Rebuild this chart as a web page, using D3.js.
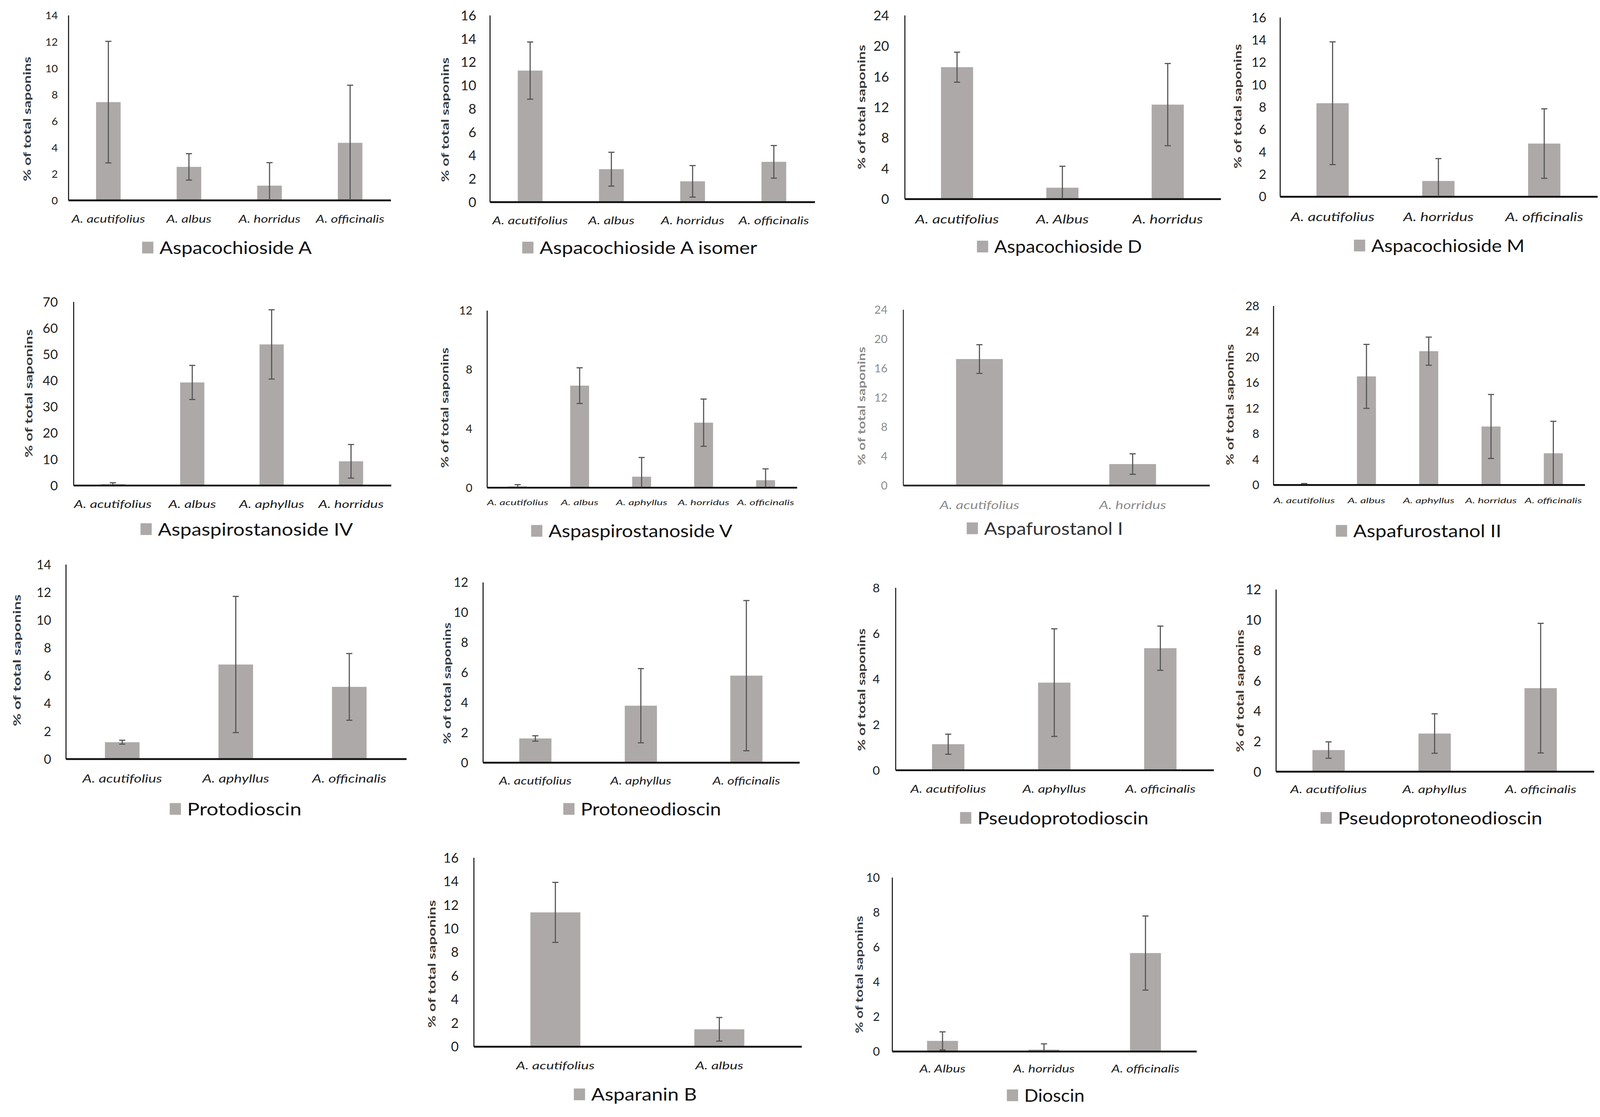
<!DOCTYPE html>
<html><head><meta charset="utf-8">
<script src="https://cdn.jsdelivr.net/npm/d3@7"></script>
<style>html,body{margin:0;padding:0;background:#fff;} svg{display:block;}</style>
</head><body>
<svg id="chart"></svg>
<script>
// ---------------- DATA ----------------
const compounds = ["Aspacochioside A","Aspacochioside A isomer","Aspacochioside D","Aspacochioside M",
  "Aspaspirostanoside IV","Aspaspirostanoside V","Aspafurostanol I","Aspafurostanol II",
  "Protodioscin","Protoneodioscin","Pseudoprotodioscin","Pseudoprotoneodioscin",
  "Asparanin B","Dioscin"];
const species = [
  ["A. acutifolius","A. albus","A. horridus","A. officinalis"],
  ["A. acutifolius","A. albus","A. horridus","A. officinalis"],
  ["A. acutifolius","A. Albus","A. horridus"],
  ["A. acutifolius","A. horridus","A. officinalis"],
  ["A. acutifolius","A. albus","A. aphyllus","A. horridus"],
  ["A. acutifolius","A. albus","A. aphyllus","A. horridus","A. officinalis"],
  ["A. acutifolius","A. horridus"],
  ["A. acutifolius","A. albus","A. aphyllus","A. horridus","A. officinalis"],
  ["A. acutifolius","A. aphyllus","A. officinalis"],
  ["A. acutifolius","A. aphyllus","A. officinalis"],
  ["A. acutifolius","A. aphyllus","A. officinalis"],
  ["A. acutifolius","A. aphyllus","A. officinalis"],
  ["A. acutifolius","A. albus"],
  ["A. Albus","A. horridus","A. officinalis"]
];
const means = [
  [7.4, 2.5, 1.08, 4.32],
  [11.23, 2.78, 1.74, 3.41],
  [17.17, 1.42, 12.28],
  [8.3, 1.36, 4.7],
  [0.35, 39.1, 53.6, 9.04],
  [0.05, 6.88, 0.71, 4.37, 0.47],
  [17.2, 2.86],
  [0.05, 16.9, 20.84, 9.07, 4.88],
  [1.18, 6.77, 5.16],
  [1.58, 3.76, 5.76],
  [1.12, 3.82, 5.33],
  [1.39, 2.48, 5.47],
  [11.33, 1.43],
  [0.58, 0.08, 5.63]
];
const errors = [
  [4.6, 1.0, 1.74, 4.36],
  [2.45, 1.45, 1.35, 1.4],
  [1.96, 2.8, 5.37],
  [5.48, 2.0, 3.1],
  [0.5, 6.5, 13.2, 6.4],
  [0.12, 1.21, 1.3, 1.6, 0.77],
  [1.96, 1.4],
  [0.1, 5.0, 2.2, 5.0, 5.0],
  [0.14, 4.9, 2.4],
  [0.18, 2.47, 5.0],
  [0.44, 2.36, 0.97],
  [0.54, 1.3, 4.27],
  [2.54, 1.0],
  [0.52, 0.33, 2.13]
];
const yMaxes = [14,16,24,16,70,12,24,28,14,12,8,12,16,10];
const ySteps = [2,2,4,2,10,4,4,4,2,2,2,2,2,2];
const yTitle = "% of total saponins";

// ---------------- LAYOUT (view units, 1568 x 1093) ----------------
const layout = [
  {ax:66.5, ax1:382,   top:14.6,  base:195.6, tfs:10.6, gap:10,  cfs:10.6, cy:218,   cw:72,  lx:139,   ly:243,   lw:149,   tx:26,    ty:116.4, tl:121.9},
  {ax:479,  ax1:797,   top:14.6,  base:197.3, tfs:13.2, gap:13,  cfs:10.6, cy:219.5, cw:74,  lx:511,   ly:243,   lw:213,   tx:435,   ty:117.2, tl:121.9},
  {ax:885,  ax1:1194.3,top:14.6,  base:194.3, tfs:13.2, gap:15,  cfs:11.5, cy:218.5, cw:82,  lx:956,   ly:242,   lw:144.5, tx:842.6, ty:104.8, tl:121.9},
  {ax:1252.3,ax1:1563, top:16.6,  base:192,   tfs:12.6, gap:13,  cfs:11.5, cy:216.3, cw:82,  lx:1325,  ly:241,   lw:150,   tx:1210.9,ty:104,   tl:121.9},
  {ax:71.5, ax1:382.3, top:294.9, base:474.6, tfs:12.8, gap:15,  cfs:10.6, cy:497,   cw:76,  lx:137.4, ly:518.5, lw:191,   tx:27.5,  ty:384.9, tl:125.5},
  {ax:476.2,ax1:779.5, top:303.4, base:476.7, tfs:11.1, gap:14,  cfs:7.7,  cy:494.5, cw:60,  lx:519.7, ly:520.2, lw:180,   tx:434.7, ty:399,   tl:117.8},
  {ax:883.5,ax1:1183.4,top:302.6, base:474.6, tfs:11.1, gap:15,  cfs:11,   cy:498.3, cw:78,  lx:946,   ly:517.7, lw:136,   tx:842.6, ty:397.3, tl:116, gray:true},
  {ax:1245.8,ax1:1550.6,top:298.8,base:474.1, tfs:11.7, gap:13.5,cfs:7.7,  cy:492.3, cw:60,  lx:1307.3,ly:520.2, lw:145,   tx:1203.3,ty:396,   tl:118.6},
  {ax:64,   ax1:397.3, top:551.9, base:742.3, tfs:12.4, gap:14,  cfs:11,   cy:765.7, cw:78,  lx:166,   ly:792.3, lw:112,   tx:16,    ty:646.1, tl:129},
  {ax:472.2,ax1:782,   top:569.4, base:745.8, tfs:12.4, gap:14,  cfs:10.5, cy:767.6, cw:71,  lx:551.2, ly:792.3, lw:137.4, tx:437.2, ty:668.6, tl:119},
  {ax:876,  ax1:1187.4,top:574.7, base:753.2, tfs:12.1, gap:15,  cfs:10.5, cy:775.5, cw:74,  lx:939.5, ly:801.1, lw:167.4, tx:842.6, ty:675,   tl:120},
  {ax:1248.3,ax1:1559.6,top:576.4,base:754.6, tfs:13.2, gap:14,  cfs:10.5, cy:775.9, cw:75,  lx:1292.3,ly:801.1, lw:200,   tx:1213.3,ty:676,   tl:120},
  {ax:463.2,ax1:784.1, top:838.8, base:1023.7,tfs:13,   gap:14.4,cfs:10.6, cy:1046.2,cw:76.8,lx:561.5, ly:1071.6,lw:103.4, tx:422.2, ty:943.2, tl:125},
  {ax:872.7,ax1:1170.6,top:858.2, base:1028.4,tfs:11.6, gap:11.7,cfs:10,   cy:1049.3,cw:45,  lx:985.3, ly:1072.5,lw:59,    tx:840.5, ty:953.6, tl:115}
];

const VW = 1568, VH = 1093;
const barColor = "#aea9a9";
const font = "Lato, 'Open Sans', sans-serif";
const svg = d3.select("#chart")
  .attr("width", 4102).attr("height", 2859)
  .attr("viewBox", `0 0 ${VW} ${VH}`);
svg.append("rect").attr("width", VW).attr("height", VH).attr("fill", "#fff");

compounds.forEach((name, i) => {
  const L = layout[i];
  const textCol = L.gray ? "#8c8c8c" : "#1e1e1e";
  const g = svg.append("g");
  const rows = species[i].map((s, j) => ({s, m: means[i][j], e: errors[i][j]}));

  const x = d3.scaleBand().domain(species[i]).range([L.ax, L.ax1])
    .paddingInner(0.695).paddingOuter(0.3475);
  const y = d3.scaleLinear().domain([0, yMaxes[i]]).range([L.base, L.top]);

  // bars
  g.append("g").selectAll("rect").data(rows).join("rect")
    .attr("x", d => x(d.s)).attr("width", x.bandwidth())
    .attr("y", d => y(d.m)).attr("height", d => y(0) - y(d.m))
    .attr("fill", barColor);

  // y axis
  const ticks = d3.range(0, yMaxes[i] + ySteps[i] / 2, ySteps[i]);
  const ya = g.append("g").attr("transform", `translate(${L.ax},0)`)
    .call(d3.axisLeft(y).tickValues(ticks).tickSize(0).tickPadding(L.gap).tickFormat(d3.format("d")));
  ya.select(".domain").attr("stroke", L.gray ? "#333" : "#111").attr("stroke-width", 1);
  ya.selectAll(".tick text")
    .attr("font-family", font).attr("font-size", L.tfs)
    .attr("fill", textCol).attr("dy", "0.36em");

  // x axis
  const xa = g.append("g").attr("transform", `translate(0,${L.base})`)
    .call(d3.axisBottom(x).tickSize(0).tickSizeOuter(0));
  xa.select(".domain").attr("stroke", L.gray ? "#2a2a2a" : "#111").attr("stroke-width", 1.8);
  const labels = xa.selectAll(".tick text")
    .attr("font-family", font).attr("font-style", "italic")
    .attr("font-size", L.cfs).attr("fill", textCol)
    .attr("y", 0).attr("dy", 0);
  const firstLen = labels.nodes()[0].getComputedTextLength();
  const csx = L.cw / firstLen;
  labels.attr("transform", `translate(0,${L.cy - L.base}) scale(${csx},1)`);

  // error bars
  const eb = g.append("g").attr("stroke", "#555").attr("stroke-width", 1.1).attr("fill", "none");
  const cx = d => x(d.s) + x.bandwidth() / 2;
  eb.selectAll("line.v").data(rows).join("line").attr("class", "v")
    .attr("x1", cx).attr("x2", cx)
    .attr("y1", d => y(Math.max(0, d.m - d.e))).attr("y2", d => y(d.m + d.e));
  eb.selectAll("line.ct").data(rows).join("line").attr("class", "ct")
    .attr("x1", d => cx(d) - 3).attr("x2", d => cx(d) + 3)
    .attr("y1", d => y(d.m + d.e)).attr("y2", d => y(d.m + d.e));
  eb.selectAll("line.cb").data(rows.filter(d => d.m - d.e > 0)).join("line").attr("class", "cb")
    .attr("x1", d => cx(d) - 3).attr("x2", d => cx(d) + 3)
    .attr("y1", d => y(d.m - d.e)).attr("y2", d => y(d.m - d.e));

  // y title
  const tt = g.append("text")
    .attr("font-family", font).attr("font-weight", "bold").attr("font-size", 10.5)
    .attr("fill", L.gray ? "#8a8a8a" : "#3a3a3a")
    .attr("text-anchor", "middle").attr("dominant-baseline", "central")
    .text(yTitle);
  const tLen = tt.node().getComputedTextLength();
  tt.attr("transform", `translate(${L.tx},${L.ty}) rotate(-90) scale(${L.tl / tLen},1)`);

  // legend
  g.append("rect").attr("x", L.lx).attr("y", L.ly - 6.5).attr("width", 11).attr("height", 11.5)
    .attr("fill", barColor);
  const lt = g.append("text")
    .attr("font-family", font).attr("font-size", 17)
    .attr("fill", L.gray ? "#333" : "#111")
    .text(name);
  const lLen = lt.node().getComputedTextLength();
  lt.attr("transform", `translate(${L.lx + 17},${L.ly + 5.5}) scale(${L.lw / lLen},1)`);
});
</script>
</body></html>
